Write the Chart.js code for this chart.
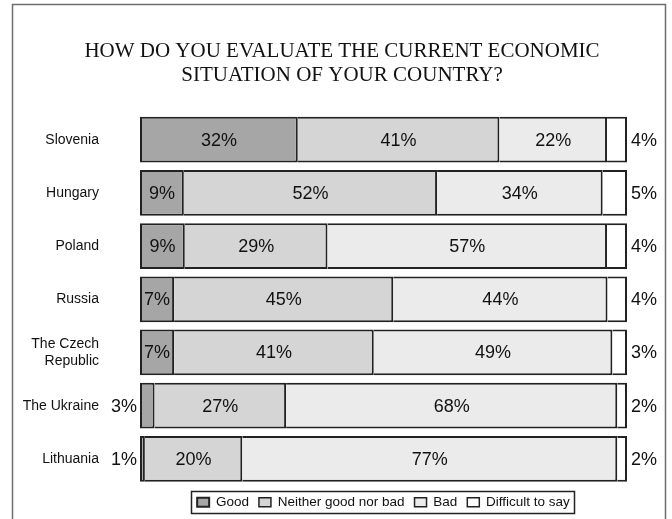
<!DOCTYPE html>
<html>
<head>
<meta charset="utf-8">
<title>Economic situation survey</title>
<script src="https://cdn.jsdelivr.net/npm/chart.js@4/dist/chart.umd.min.js"></script>
<style>
    html, body { margin: 0; padding: 0; background: #fff; }
    #wrap { width: 672px; height: 519px; position: relative; }
</style>
</head>
<body>
<div id="wrap"><canvas id="chart"></canvas></div>
<script>
// Survey data (percent)
const countries = ['Slovenia', 'Hungary', 'Poland', 'Russia', ['The Czech', 'Republic'], 'The Ukraine', 'Lithuania'];
const seriesNames = ['Good', 'Neither good nor bad', 'Bad', 'Difficult to say'];
const good = [32.4, 9, 9.2, 7, 7, 3, 1];
const neither = [41.4, 52, 29.3, 45, 41, 27, 20];
const bad = [22.1, 34, 57.4, 44, 49, 68, 77];
const difficult = [4.1, 5, 4.1, 4, 3, 2, 2];
const titleLines = ['HOW DO YOU EVALUATE THE CURRENT ECONOMIC', 'SITUATION OF YOUR COUNTRY?'];

const fills = ['#a6a6a6', '#d5d5d5', '#ebebeb', '#ffffff'];
const edge = '#222222';

// frame around the whole picture
const framePlugin = {
    id: 'frame',
    beforeDraw(chart) {
        const ctx = chart.ctx;
        ctx.save();
        ctx.fillStyle = '#fff';
        ctx.fillRect(0, 0, chart.width, chart.height);
        ctx.strokeStyle = '#6e6e6e';
        ctx.lineWidth = 1.5;
        ctx.beginPath();
        ctx.moveTo(12.5, chart.height + 2);
        ctx.lineTo(12.5, 4.5);
        ctx.lineTo(665.5, 4.5);
        ctx.lineTo(665.5, chart.height + 2);
        ctx.stroke();
        ctx.restore();
    }
};

// percent labels on / beside the bars
const valueLabels = {
    id: 'valueLabels',
    afterDatasetsDraw(chart) {
        const ctx = chart.ctx;
        ctx.save();
        ctx.font = '18px "Liberation Sans", Arial, sans-serif';
        ctx.fillStyle = '#111';
        ctx.textBaseline = 'middle';
        chart.data.datasets.forEach((ds, i) => {
            chart.getDatasetMeta(i).data.forEach((bar, j) => {
                const text = Math.round(ds.data[j]) + '%';
                const w = bar.x - bar.base;
                if (i === 3) {
                    ctx.textAlign = 'left';
                    ctx.fillText(text, chart.chartArea.right + 4, bar.y + 1);
                } else if (w < 25) {
                    ctx.textAlign = 'right';
                    ctx.fillText(text, bar.base - 3, bar.y + 1);
                } else {
                    ctx.textAlign = 'center';
                    ctx.fillText(text, (bar.x + bar.base) / 2, bar.y + 1);
                }
            });
        });
        ctx.restore();
    }
};

// thin box around the legend
const legendBox = {
    id: 'legendBox',
    afterDraw(chart) {
        const boxes = chart.legend.legendHitBoxes;
        if (!boxes || !boxes.length) return;
        const left = Math.min(...boxes.map(b => b.left)) - 6;
        const right = Math.max(...boxes.map(b => b.left + b.width)) + 4;
        const mid = boxes[0].top + boxes[0].height / 2;
        const ctx = chart.ctx;
        ctx.save();
        ctx.strokeStyle = '#222';
        ctx.lineWidth = 1.5;
        ctx.strokeRect(Math.round(left) + 0.5, Math.round(mid - 11) + 0.5, Math.round(right - left), 22);
        ctx.restore();
    }
};

const dataSeries = [good, neither, bad, difficult];

new Chart(document.getElementById('chart'), {
    type: 'bar',
    data: {
        labels: countries,
        datasets: dataSeries.map((vals, i) => ({
            label: seriesNames[i],
            data: vals,
            backgroundColor: fills[i],
            borderColor: edge,
            borderWidth: i === 0 ? 2 : { left: 0, right: 2, top: 2, bottom: 2 },
            borderSkipped: false,
            barPercentage: 0.86,
            categoryPercentage: 1
        }))
    },
    options: {
        indexAxis: 'y',
        responsive: true,
        maintainAspectRatio: false,
        animation: false,
        layout: { padding: { left: 12, right: 0, top: 0, bottom: 0 } },
        scales: {
            x: { stacked: true, min: 0, max: 100, display: false },
            y: {
                stacked: true,
                grid: { display: false, drawTicks: false },
                border: { display: false },
                ticks: {
                    crossAlign: 'near',
                    padding: 41,
                    color: '#111',
                    font: { family: '"Liberation Sans", Arial, sans-serif', size: 14 }
                },
                afterFit(scale) {
                    scale.width = 128;
                    // the wide tick padding should not push the plot down
                    scale.paddingTop = 0;
                    scale.paddingBottom = 0;
                }
            },
            yRight: {
                type: 'linear',
                position: 'right',
                grid: { display: false, drawTicks: false },
                border: { display: false },
                ticks: { display: false },
                afterFit(scale) { scale.width = 45; }
            }
        },
        plugins: {
            title: {
                display: true,
                text: titleLines,
                color: '#111',
                font: { family: '"Liberation Serif", "Times New Roman", serif', size: 21, weight: 'normal', lineHeight: 1.12 },
                padding: { top: 40, bottom: 26 }
            },
            legend: {
                position: 'bottom',
                fullSize: false,
                labels: {
                    color: '#111',
                    boxWidth: 12,
                    boxHeight: 9,
                    padding: 10,
                    font: { family: '"Liberation Sans", Arial, sans-serif', size: 13.5 }
                }
            },
            tooltip: { enabled: false }
        }
    },
    plugins: [framePlugin, valueLabels, legendBox]
});
</script>
</body>
</html>
